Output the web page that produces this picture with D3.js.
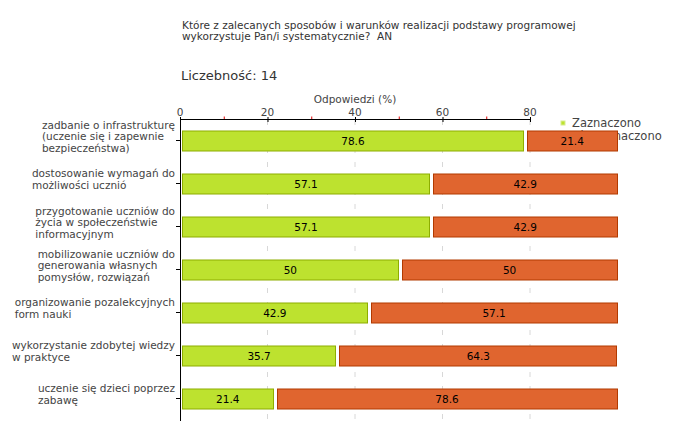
<!DOCTYPE html>
<html>
<head>
<meta charset="utf-8">
<script src="https://cdn.jsdelivr.net/npm/d3@7"></script>
<style>
body{margin:0;background:#fff;}
text{font-family:"DejaVu Sans",Verdana,sans-serif;white-space:pre;}
</style>
</head>
<body>
<script>
var titleLines=["Które z zalecanych sposobów i warunków realizacji podstawy programowej","wykorzystuje Pan/i systematycznie?  AN"];
var countLabel="Liczebność: 14";
var categories=[
  ["zadbanie o infrastrukturę","(uczenie się i zapewnie","bezpieczeństwa)"],
  ["dostosowanie wymagań do","możliwości ucznió"],
  ["przygotowanie uczniów do","życia w społeczeństwie","informacyjnym"],
  ["mobilizowanie uczniów do","generowania własnych","pomysłów, rozwiązań"],
  ["organizowanie pozalekcyjnych","form nauki"],
  ["wykorzystanie zdobytej wiedzy","w praktyce"],
  ["uczenie się dzieci poprzez","zabawę"]
];
var zaznaczono=[78.6,57.1,57.1,50,42.9,35.7,21.4];
var nieZaznaczono=[21.4,42.9,42.9,50,57.1,64.3,78.6];
var seriesNames=["Zaznaczono","Nie zaznaczono"];
var majorTicks=[0,20,40,60,80];
var minorTicks=[10,30,50,70];
var axisTitle="Odpowiedzi (%)";

var svg=d3.select("body").append("svg")
          .attr("width",680)
          .attr("height",440);

var fills=["#bde22f","#e0652f"];
var strokes=["#8dad00","#b23a00"];

var xScale=d3.scaleLinear().domain([0,100]).range([180,617.5]);
var yScale=d3.scaleBand().domain(d3.range(categories.length)).range([119,420]);

// titles
svg.append("g").selectAll("text")
   .data(titleLines).enter().append("text")
   .attr("x",182).attr("y",function(d,i){return 29+i*11;})
   .attr("font-size",10.5).attr("fill","#333")
   .text(function(d){return d;});
svg.append("text").attr("x",181).attr("y",80)
   .attr("font-size",13).attr("fill","#333").text(countLabel);

// gridlines
svg.append("g").selectAll("line")
   .data(majorTicks.slice(1)).enter().append("line")
   .attr("x1",function(d){return xScale(d);}).attr("x2",function(d){return xScale(d);})
   .attr("y1",120).attr("y2",420)
   .attr("stroke","#d8d8d8").attr("stroke-dasharray","5,9");

// legend (drawn under the bars)
var legend=svg.append("g");
var legendItems=legend.selectAll("g").data(seriesNames).enter().append("g")
   .attr("transform",function(d,i){return "translate(561,"+(121+i*13)+")";});
legendItems.append("rect").attr("width",4).attr("height",4)
   .attr("fill",function(d,i){return fills[i];})
   .attr("stroke",function(d,i){return i==0?"#d8ec90":"#eaa080";}).attr("stroke-width",1);
legendItems.append("text").attr("x",11).attr("y",6)
   .attr("font-size",11.5).attr("fill","#444")
   .text(function(d){return d;});

// top axis
var axisG=svg.append("g");
axisG.append("line").attr("x1",xScale(0)).attr("x2",xScale(80)).attr("y1",119.5).attr("y2",119.5).attr("stroke","#000");
axisG.selectAll(".maj").data(majorTicks).enter().append("line")
   .attr("x1",function(d){return xScale(d)+0.5;}).attr("x2",function(d){return xScale(d)+0.5;})
   .attr("y1",117).attr("y2",122).attr("stroke","#000");
axisG.selectAll(".min").data(minorTicks).enter().append("line")
   .attr("x1",function(d){return xScale(d)+0.5;}).attr("x2",function(d){return xScale(d)+0.5;})
   .attr("y1",116.5).attr("y2",119).attr("stroke","#e00000");
axisG.selectAll("text").data(majorTicks).enter().append("text")
   .attr("x",function(d){return xScale(d);}).attr("y",116)
   .attr("text-anchor","middle").attr("font-size",10.5).attr("fill","#444")
   .text(function(d){return d;});
svg.append("text").attr("x",xScale(40)).attr("y",103)
   .attr("text-anchor","middle").attr("font-size",10.5).attr("fill","#444").text(axisTitle);

// left axis
svg.append("line").attr("x1",180.5).attr("x2",180.5).attr("y1",119).attr("y2",421).attr("stroke","#000");
svg.append("g").selectAll("line").data(categories).enter().append("line")
   .attr("x1",176).attr("x2",180)
   .attr("y1",function(d,i){return Math.round(yScale(i)+yScale.bandwidth()/2)-0.5;})
   .attr("y2",function(d,i){return Math.round(yScale(i)+yScale.bandwidth()/2)-0.5;})
   .attr("stroke","#000");

// category labels: left aligned block, right edge at 175
var labels=svg.append("g").selectAll("g").data(categories).enter().append("g");
labels.each(function(d,i){
  var g=d3.select(this);
  var cy=yScale(i)+yScale.bandwidth()/2;
  var lh=11.5;
  var y0=cy-4-(d.length-1)*lh/2+3.5;
  var t=g.selectAll("text").data(d).enter().append("text")
     .attr("y",function(s,j){return y0+j*lh;})
     .attr("font-size",10.5).attr("fill","#444")
     .text(function(s){return s;});
  var w=0;
  t.each(function(){w=Math.max(w,this.getComputedTextLength());});
  t.attr("x",175-w);
});

// bars
var rows=categories.map(function(c,i){return [zaznaczono[i],nieZaznaczono[i]];});
var rowG=svg.append("g").selectAll("g").data(rows).enter().append("g")
   .attr("transform",function(d,i){return "translate(0,"+(yScale(i)+yScale.bandwidth()/2-10)+")";});
rowG.each(function(d){
  var g=d3.select(this);
  var cum=0;
  d.forEach(function(v,k){
    var x0=xScale(cum)+(k==0?2:3);
    var x1=xScale(cum+v);
    g.append("rect").attr("x",Math.round(x0)+0.5).attr("y",0.5)
     .attr("width",Math.round(x1-x0)-1).attr("height",20)
     .attr("fill",fills[k]).attr("stroke",strokes[k]);
    g.append("text").attr("x",(x0+x1)/2).attr("y",14.5)
     .attr("text-anchor","middle").attr("font-size",10.5).attr("fill","#000")
     .text(v);
    cum+=v;
  });
});
</script>
</body>
</html>
